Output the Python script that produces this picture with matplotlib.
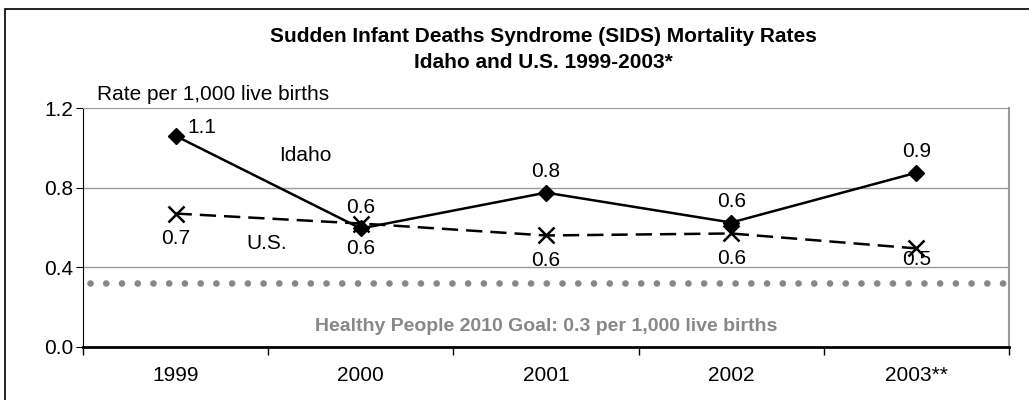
import matplotlib.pyplot as plt
from matplotlib.patches import Rectangle
from matplotlib.ticker import FormatStrFormatter, FixedLocator

plt.rcParams['font.family'] = ['Liberation Sans', 'DejaVu Sans']

years = ['1999', '2000', '2001', '2002', '2003**']
idaho = [1.06, 0.595, 0.775, 0.625, 0.875]
us = [0.67, 0.62, 0.56, 0.57, 0.495]
idaho_labels = ['1.1', '0.6', '0.8', '0.6', '0.9']
us_labels = ['0.7', '0.6', '0.6', '0.6', '0.5']
goal_y = 0.32
yticks = [0.0, 0.4, 0.8, 1.2]

fs = 15

fig = plt.figure(figsize=(10.29, 4.0), dpi=100)
ax = fig.add_axes([83/1029, 1-347/400, 926/1029, 239/400])

x = list(range(len(years)))

# outer frame
fig.patches.append(Rectangle((5/1029, -0.02), 1.1, 0.9975, transform=fig.transFigure,
                             fill=False, edgecolor='black', lw=1.2))

ax.axhline(0.4, color='#999999', lw=1, zorder=1)
ax.axhline(0.8, color='#999999', lw=1, zorder=1)

# goal line (dots)
ax.axhline(goal_y, xmin=0.008, xmax=0.997, color='#888888', lw=4.8,
           linestyle=(0, (0.01, 2.35)), dash_capstyle='round', zorder=2)

ax.plot(x, us, color='black', lw=1.8, linestyle=(0, (6.5, 3.2)), marker='x',
        markersize=11, markeredgewidth=1.8, zorder=3)
ax.plot(x, idaho, color='black', lw=1.8, marker='D', markersize=8, zorder=4)

# data labels
ax.annotate(idaho_labels[0], (x[0], idaho[0]), xytext=(19, 6), textcoords='offset points',
            ha='center', va='center', fontsize=fs)
for i in range(1, len(x)):
    ax.annotate(idaho_labels[i], (x[i], idaho[i]), xytext=(0, 15), textcoords='offset points',
                ha='center', va='center', fontsize=fs)
for i in range(len(x) - 1):
    ax.annotate(us_labels[i], (x[i], us[i]), xytext=(0, -18), textcoords='offset points',
                ha='center', va='center', fontsize=fs)
ax.annotate(us_labels[-1], (x[-1], us[-1]), xytext=(0, -8), textcoords='offset points',
            ha='center', va='center', fontsize=fs)

ax.text(0.7, 0.96, 'Idaho', fontsize=fs, ha='center', va='center')
ax.text(0.49, 0.52, 'U.S.', fontsize=fs, ha='center', va='center')
ax.text(2.0, 0.105, 'Healthy People 2010 Goal: 0.3 per 1,000 live births', fontsize=14,
        fontweight='bold', color='#888888', ha='center', va='center')

ax.set_xlim(-0.5, 4.5)
ax.set_ylim(0, 1.2)
ax.xaxis.set_major_locator(FixedLocator([i - 0.5 for i in range(len(years) + 1)]))
ax.xaxis.set_minor_locator(FixedLocator(x))
ax.set_xticklabels([], minor=False)
ax.set_xticklabels(years, minor=True)
ax.tick_params(axis='x', which='major', length=6, width=1, color='black')
ax.tick_params(axis='x', which='minor', length=0, pad=14, labelsize=fs)
ax.set_yticks(yticks)
ax.yaxis.set_major_formatter(FormatStrFormatter('%.1f'))
ax.tick_params(axis='y', length=5, labelsize=fs, pad=2)

ax.spines['top'].set_color('#999999')
ax.spines['right'].set_color('#999999')
ax.spines['right'].set_linewidth(1.5)
ax.spines['left'].set_color('black')
ax.spines['bottom'].set_color('black')
ax.spines['bottom'].set_linewidth(2)

fig.text(543/1029, 1-37/400, 'Sudden Infant Deaths Syndrome (SIDS) Mortality Rates',
         ha='center', va='center', fontsize=15, fontweight='bold')
fig.text(543/1029, 1-63/400, 'Idaho and U.S. 1999-2003*',
         ha='center', va='center', fontsize=15, fontweight='bold')
fig.text(97/1029, 1-95/400, 'Rate per 1,000 live births', ha='left', va='center', fontsize=fs)

fig.savefig('out.png', dpi=100)
